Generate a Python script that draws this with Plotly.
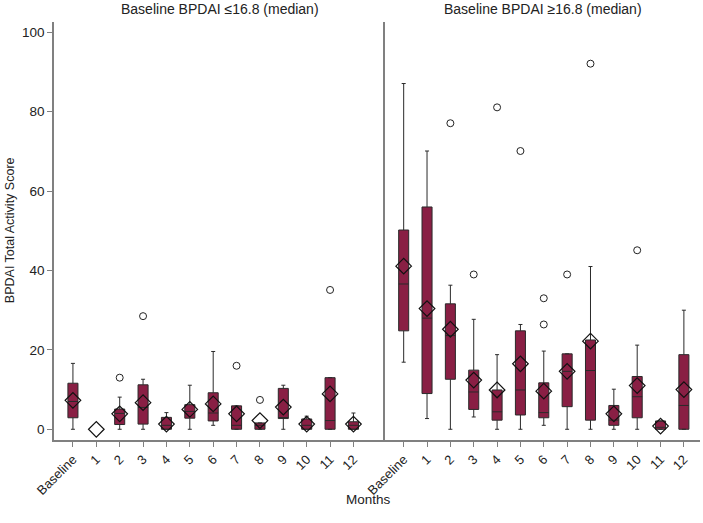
import plotly.graph_objects as go

cats = ["Baseline", "1", "2", "3", "4", "5", "6", "7", "8", "9", "10", "11", "12"]

# Left panel: Baseline BPDAI <=16.8
q1_lo = [2.9, 0, 1.2, 1.3, 0, 2.8, 2.1, 0, 0, 2.7, 0, 0, 0]
med_lo = [7.0, 0, 4.0, 5.5, 1.0, 4.5, 4.1, 1.0, 1.0, 2.9, 1.0, 2.2, 1.0]
q3_lo = [11.6, 0, 5.1, 11.2, 3.0, 6.2, 9.2, 5.9, 1.6, 10.3, 2.6, 13.0, 1.9]
low_lo = [0, 0, 0, 0, 0, 0, 1.0, 0, 0, 0, 0, 0, 0]
high_lo = [16.6, 0, 8.1, 12.6, 4.2, 11.1, 19.6, 5.9, 1.6, 11.1, 3.3, 13.0, 4.1]
mean_lo = [7.3, 0, 3.9, 6.7, 1.3, 5.0, 6.4, 3.9, 2.2, 5.6, 1.3, 8.9, 1.3]
out_lo_x = ["2", "3", "7", "8", "11"]
out_lo_y = [13.0, 28.5, 16.0, 7.4, 35.1]

# Right panel: Baseline BPDAI >=16.8
q1_hi = [24.8, 9.0, 12.6, 5.0, 2.3, 3.6, 2.9, 5.7, 2.3, 1.0, 2.9, 0, 0]
med_hi = [36.6, 28.0, 23.6, 9.4, 4.4, 9.9, 4.2, 14.6, 14.8, 2.3, 8.2, 0.5, 6.0]
q3_hi = [50.2, 56.0, 31.6, 14.9, 9.9, 24.8, 11.7, 19.0, 22.5, 6.0, 13.3, 2.1, 18.8]
low_hi = [16.9, 2.7, 0, 3.1, 0, 0, 1.0, 0, 0, 0, 0, 0, 0]
high_hi = [87.1, 70.1, 36.3, 27.7, 18.8, 26.4, 19.7, 19.0, 41.0, 10.1, 21.2, 2.1, 30.0]
mean_hi = [41.1, 30.4, 25.2, 12.4, 9.9, 16.5, 9.6, 14.6, 22.2, 3.9, 11.0, 0.8, 10.0]
out_hi_x = ["2", "3", "4", "5", "6", "6", "7", "8", "10"]
out_hi_y = [77.1, 39.0, 81.1, 70.1, 33.0, 26.4, 39.0, 92.1, 45.1]

BOX_FILL = "#891F44"
LINE = "#2a2a2a"
AXIS = "#808080"
FONT = "Liberation Sans, Arial, sans-serif"

fig = go.Figure()


def add_panel(q1, med, q3, low, high, mean, ox, oy, xa, ya):
    # skip categories with no spread (all zero) for the box
    idx = [i for i in range(len(cats)) if not (q3[i] == 0 and high[i] == 0)]
    fig.add_trace(go.Box(
        x=[cats[i] for i in idx],
        q1=[q1[i] for i in idx], median=[med[i] for i in idx], q3=[q3[i] for i in idx],
        lowerfence=[low[i] for i in idx], upperfence=[high[i] for i in idx],
        fillcolor=BOX_FILL, line=dict(color=LINE, width=1),
        width=0.43, whiskerwidth=0.4, boxpoints=False,
        xaxis=xa, yaxis=ya, showlegend=False, hoverinfo="skip",
    ))
    fig.add_trace(go.Scatter(
        x=cats, y=mean, mode="markers",
        marker=dict(symbol="diamond-open", size=12, color="#111111", line=dict(width=1.2)),
        xaxis=xa, yaxis=ya, showlegend=False, hoverinfo="skip",
    ))
    fig.add_trace(go.Scatter(
        x=ox, y=oy, mode="markers",
        marker=dict(symbol="circle-open", size=7, color="#222222", line=dict(width=1)),
        xaxis=xa, yaxis=ya, showlegend=False, hoverinfo="skip",
    ))


add_panel(q1_lo, med_lo, q3_lo, low_lo, high_lo, mean_lo, out_lo_x, out_lo_y, "x", "y")
add_panel(q1_hi, med_hi, q3_hi, low_hi, high_hi, mean_hi, out_hi_x, out_hi_y, "x2", "y2")

PW = 646  # plot width (abs 54..700)
split = (385 - 54) / PW

xcommon = dict(
    type="category", categoryorder="array", categoryarray=cats,
    showline=True, linecolor=AXIS, linewidth=1.5, ticks="outside", ticklen=5,
    tickcolor=AXIS, tickangle=-45, showgrid=False, zeroline=False,
    tickfont=dict(family=FONT, size=13, color="#222222"),
)
ycommon = dict(
    range=[-2.7, 102.6], showline=True, linecolor=AXIS, linewidth=1.5,
    showgrid=False, zeroline=False,
)

fig.update_layout(
    width=703, height=523,
    margin=dict(l=54, r=3, t=22, b=83, autoexpand=False),
    paper_bgcolor="white", plot_bgcolor="white",
    font=dict(family=FONT, size=13.5, color="#222222"),
    xaxis=dict(domain=[0, split], range=[-0.81, 13.35], anchor="y", **xcommon),
    xaxis2=dict(domain=[split, 1], range=[-0.8, 12.69], anchor="y2", **xcommon),
    yaxis=dict(anchor="x", tickvals=[0, 20, 40, 60, 80, 100], ticks="outside", ticklen=5,
               tickcolor=AXIS, tickfont=dict(family=FONT, size=13.5, color="#222222"), **ycommon),
    yaxis2=dict(anchor="x2", showticklabels=False, ticks="", **ycommon),
    annotations=[
        dict(text="Baseline BPDAI ≤16.8 (median)", x=split / 2, y=1.031, xref="paper", yref="paper",
             showarrow=False, xanchor="center", yanchor="middle", font=dict(size=14)),
        dict(text="Baseline BPDAI ≥16.8 (median)", x=(split + 1) / 2, y=1.031, xref="paper", yref="paper",
             showarrow=False, xanchor="center", yanchor="middle", font=dict(size=14)),
        dict(text="Months", x=(368 - 54) / PW, y=-0.1435, xref="paper", yref="paper",
             showarrow=False, xanchor="center", yanchor="middle", font=dict(size=13.5)),
        dict(text="BPDAI Total Activity Score", x=(10 - 54) / PW, y=0.502, xref="paper", yref="paper",
             showarrow=False, xanchor="center", yanchor="middle", textangle=-90, font=dict(size=12.5)),
    ],
)

fig.write_html("out.html", config={"displayModeBar": False},
               post_script="document.body.style.margin='0px';")
